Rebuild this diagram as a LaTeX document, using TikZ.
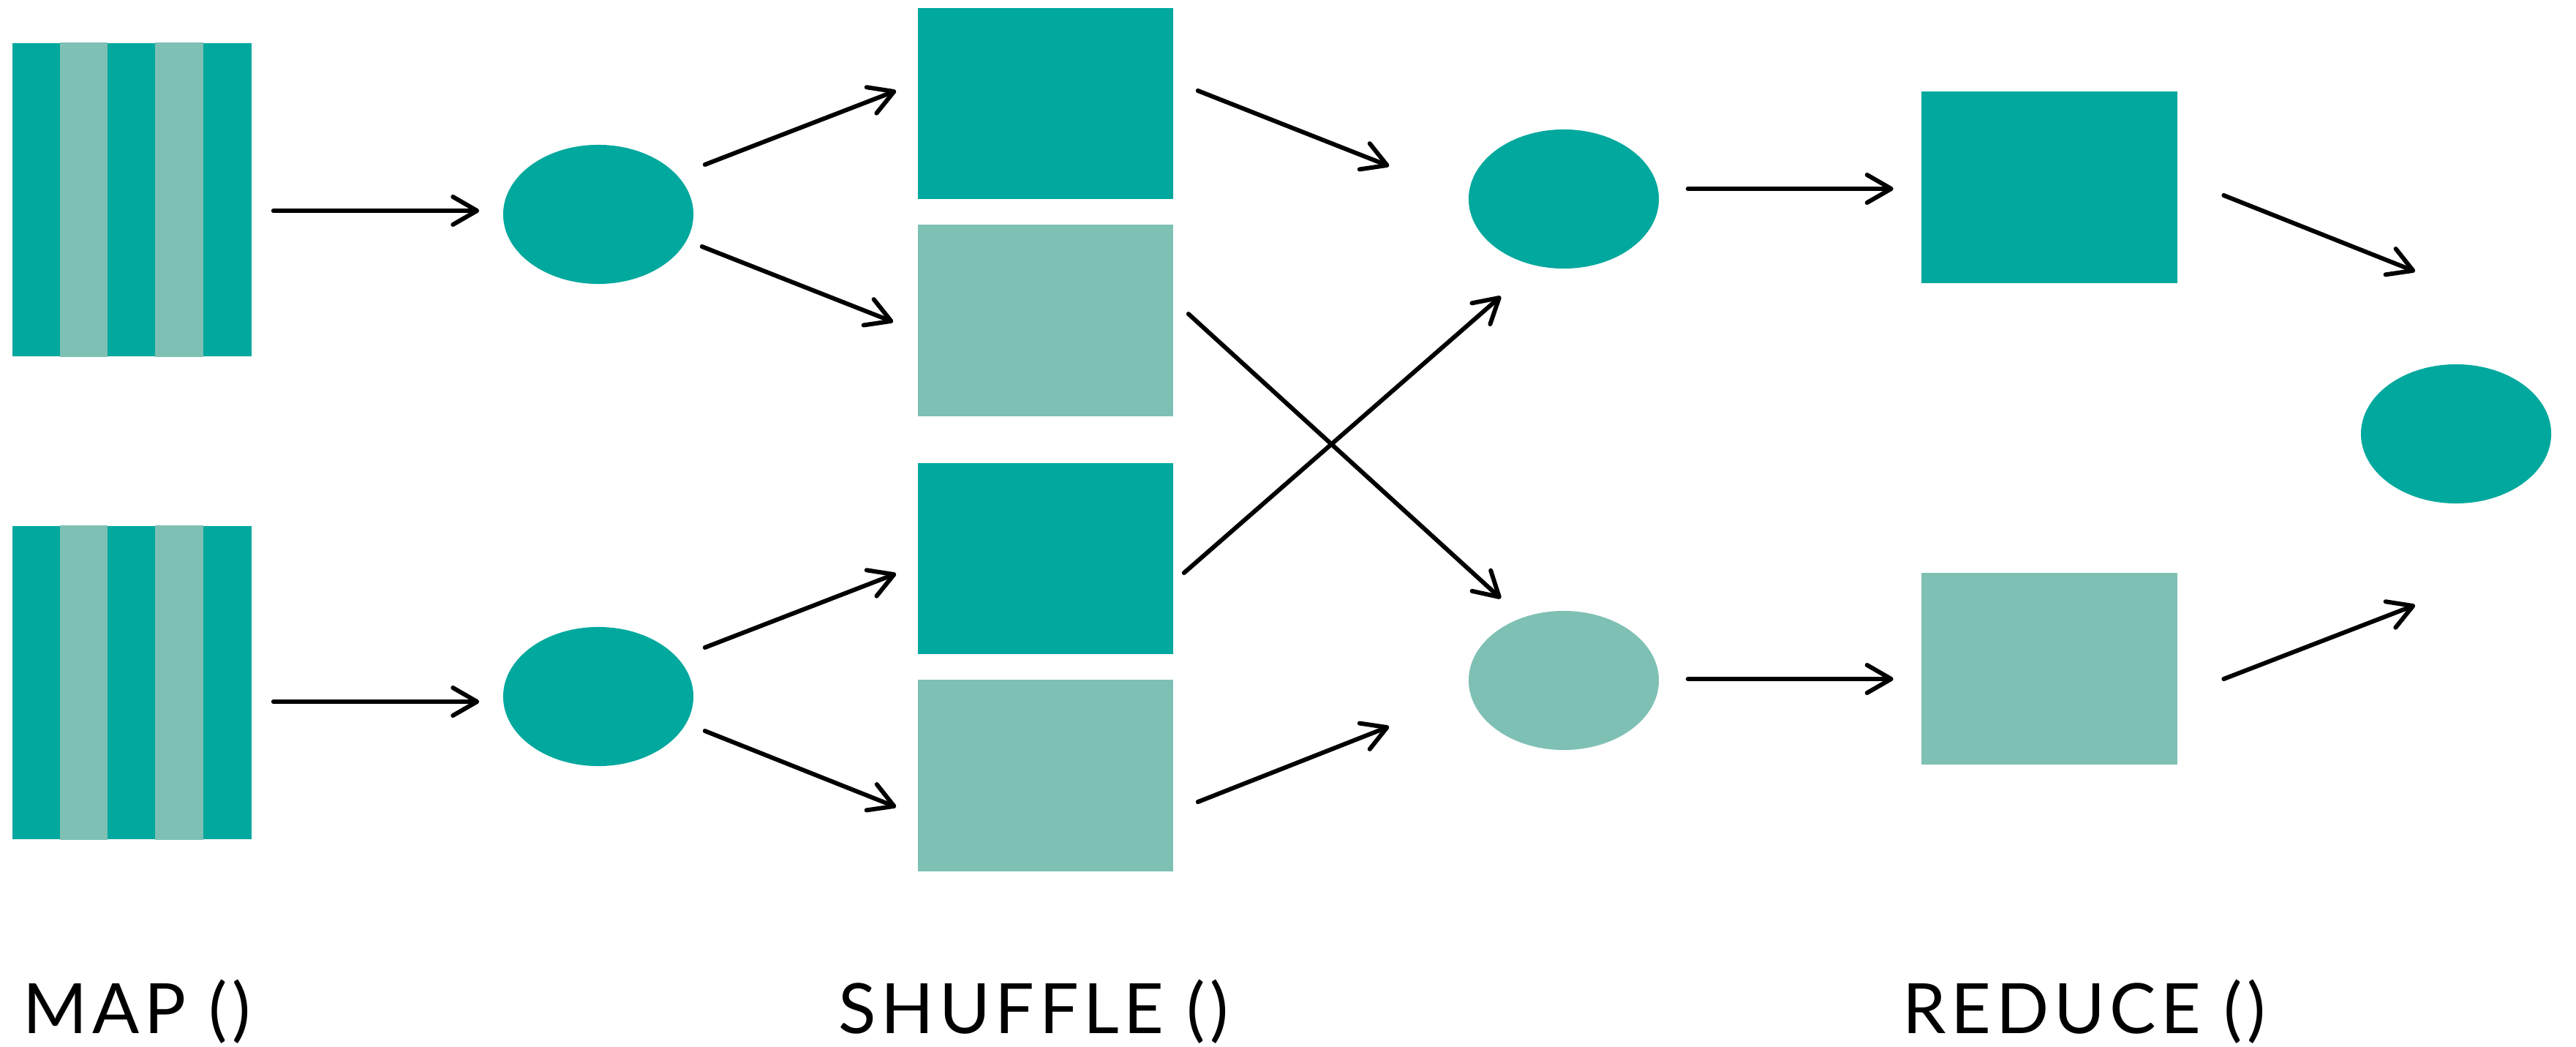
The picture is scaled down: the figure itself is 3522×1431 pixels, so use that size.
\documentclass[tikz,border=0pt]{standalone}
\usepackage{fontspec}
\setmainfont{Lato}[LetterSpace=7]
\usepackage{tikz}
\usetikzlibrary{arrows.meta, calc, shapes.geometric}

\definecolor{tealD}{RGB}{0,168,157}
\definecolor{tealL}{RGB}{127,192,181}

\begin{document}
\begin{tikzpicture}[x=0.01cm, y=-0.01cm,
    >={Straight Barb[round, length=0.33cm, width=0.38cm]},
    arr/.style={line width=1.7pt, line cap=round, ->},
    blk/.style={rectangle, draw=none, inner sep=0pt, minimum width=3.49cm, minimum height=2.61cm},
    oval/.style={ellipse, draw=none, inner sep=0pt, minimum width=2.6cm, minimum height=1.9cm},
    strip/.style={rectangle, draw=none, inner sep=0pt, minimum width=3.27cm, minimum height=4.28cm, fill=tealD},
    lbl/.style={anchor=base west, inner sep=0pt, font=\fontsize{27}{30}\selectfont}]
                \useasboundingbox (0, 0) rectangle (3522, 1431);

                % Datos de entrada (bloques con franjas)
                \node[strip] (sb1) at (180.5, 273) {};
                \node[strip] (sb2) at (180.5, 933) {};
                \foreach \b in {sb1, sb2}
                    \foreach \i in {1, 3}
                        \fill[tealL] ($(\b.north west)+(\i*65.4, 0)$) rectangle ($(\b.south west)+(\i*65.4+65.4, 0)$);

                % Map
                \node[oval, fill=tealD] (m1) at (818, 293) {};
                \node[oval, fill=tealD] (m2) at (818, 952) {};

                % Shuffle
                \node[blk, fill=tealD] (s1) at (1429.5, 141.5) {};
                \node[blk, fill=tealL] (s2) at (1429.5, 438) {};
                \node[blk, fill=tealD] (s3) at (1429.5, 763.5) {};
                \node[blk, fill=tealL] (s4) at (1429.5, 1060) {};

                % Reduce
                \node[oval, fill=tealD] (r1) at (2138, 272) {};
                \node[oval, fill=tealL] (r2) at (2138, 930) {};
                \node[blk, fill=tealD] (rb1) at (2802, 256) {};
                \node[blk, fill=tealL] (rb2) at (2802, 914) {};

                % Resultado
                \node[oval, fill=tealD] (res) at (3358, 593) {};

                % Flechas de map
                \draw[arr] ($(sb1.east)+(29, 15)$) -- ($(m1.west)+(-32, -5)$);
                \draw[arr] ($(sb2.east)+(29, 26)$) -- ($(m2.west)+(-32, 7)$);

                % Flechas hacia shuffle
                \draw[arr] ($(m1.east)+(15, -68)$) -- ($(s1.west)+(-29, -17.5)$);
                \draw[arr] ($(m1.east)+(11, 44)$) -- ($(s2.west)+(-33, 2)$);
                \draw[arr] ($(m2.east)+(15, -67)$) -- ($(s3.west)+(-29, 20.5)$);
                \draw[arr] ($(m2.east)+(15, 47)$) -- ($(s4.west)+(-29, 43)$);

                % Flechas hacia reduce (cruzadas en el centro)
                \draw[arr] ($(s1.east)+(33, -17.5)$) -- ($(r1.west)+(-108, -45)$);
                \draw[arr] ($(s2.east)+(20, -9)$) -- ($(r2.center)+(-86, -112)$);
                \draw[arr] ($(s3.east)+(14, 19.5)$) -- ($(r1.center)+(-86, 133)$);
                \draw[arr] ($(s4.east)+(33, 36)$) -- ($(r2.west)+(-108, 63)$);

                \draw[arr] ($(r1.east)+(39, -14)$) -- ($(rb1.west)+(-38, 2)$);
                \draw[arr] ($(r2.east)+(39, -2)$) -- ($(rb2.west)+(-38, 14)$);

                % Flechas hacia el resultado
                \draw[arr] ($(rb1.east)+(63, 11)$) -- ($(res.center)+(-56, -222)$);
                \draw[arr] ($(rb2.east)+(63, 14)$) -- ($(res.center)+(-56, 234)$);

                % Etiquetas de fases
                \node[lbl] (lmap) at (31, 1412) {MAP ()};
                \node[lbl] (lshuf) at (1146, 1412) {SHUFFLE ()};
                \node[lbl] (lred) at (2601, 1412) {REDUCE ()};
            \end{tikzpicture}
\end{document}
